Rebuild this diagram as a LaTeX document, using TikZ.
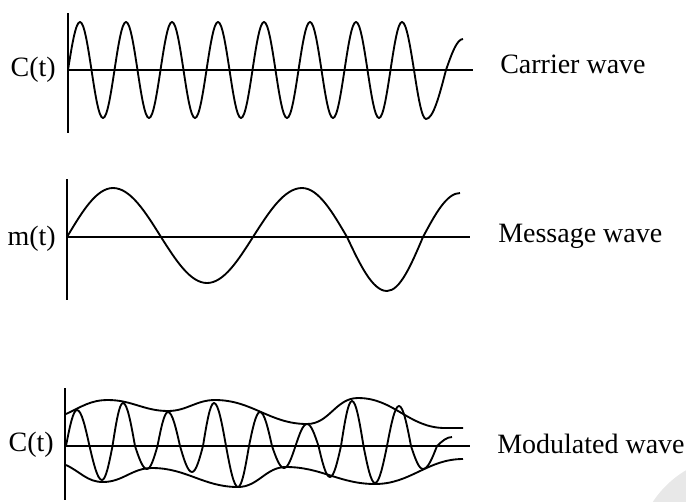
\documentclass[tikz,border=0pt]{standalone}
\usepackage{fontspec}
\setmainfont{Liberation Serif}

\begin{document}
\begin{tikzpicture}[x=0.75pt, y=-0.75pt,
    axis/.style={line width=1.4pt},
    wave/.style={line width=1.4pt, line join=round},
    lbl/.style={inner sep=0pt, font=\fontsize{21}{25}\selectfont}]
    \useasboundingbox (0,0) rectangle (686,501);
    % faint mark in the corner
    \begin{scope}
        \clip (0,0) rectangle (686,501);
        \fill[gray!18] (738,558) circle (76.5pt);
    \end{scope}
    % carrier wave
    \draw[axis] (68,13) -- (68,133);
    \draw[axis] (68,70) -- (473,70);
    \draw[wave] (68,70) sin (80,22)
        foreach \k in {0,...,6} {
            cos ({91.5+46*\k},70) sin ({103+46*\k},118) cos ({114.5+46*\k},70) sin ({126+46*\k},22)
        }
        cos (414,70) sin (426,119) cos (446,70) sin (463,39);
    \node[lbl, anchor=base east] (ctop) at (56,76) {C(t)};
    \node[lbl, anchor=base west] (carrier) at (500,73) {Carrier wave};
    % message wave
    \draw[axis] (67,179) -- (67,300);
    \draw[axis] (67,237) -- (470,237);
    \draw[wave] (67,237) sin (113,188) cos (161,237) sin (207,283) cos (253,237)
        sin (302,188) cos (347,237) sin (387,291) cos (423,237) sin (460,193);
    \node[lbl, anchor=base east] (mt) at (56,245) {m(t)};
    \node[lbl, anchor=base west] (message) at (498,242) {Message wave};
    % modulated wave
    \draw[axis] (65,388) -- (65,500);
    \draw[axis] (65,446) -- (470,446);
    \draw[wave] (66,414) to[out=25,in=180] (108,400) to[out=0,in=180] (168,411)
        to[out=0,in=180] (215,400) to[out=0,in=180] (307,424) to[out=0,in=180] (358,398)
        to[out=0,in=180] (445,428) -- (463,428);
    \draw[wave] (66,465) to[out=-25,in=180] (103,482) to[out=0,in=180] (152,468)
        to[out=0,in=180] (238,487) to[out=0,in=180] (286,467) to[out=0,in=180] (375,484)
        to[out=0,in=180] (463,459);
    \draw[wave] (66,446) sin (77,410) cos (89.5,446) sin (102,480) cos (112.5,446)
        sin (123,403) cos (135,446) sin (147,469) cos (157.5,446)
        sin (168,412) cos (180,446) sin (192,472) cos (203,446)
        sin (214,403) cos (226,446) sin (238,487) cos (249,446)
        sin (260,412) cos (272,446) sin (284,468) cos (295.5,446)
        sin (307,424) cos (318.5,446) sin (330,477) cos (341,446)
        sin (352,401) cos (363.5,446) sin (375,483) cos (387,446)
        sin (399,406) cos (411,446) sin (423,469) cos (437,446) sin (452,437);
    \node[lbl, anchor=base east] (cbot) at (54,451) {C(t)};
    \node[lbl, anchor=base west] (modulated) at (497,453) {Modulated wave};
\end{tikzpicture}
\end{document}
